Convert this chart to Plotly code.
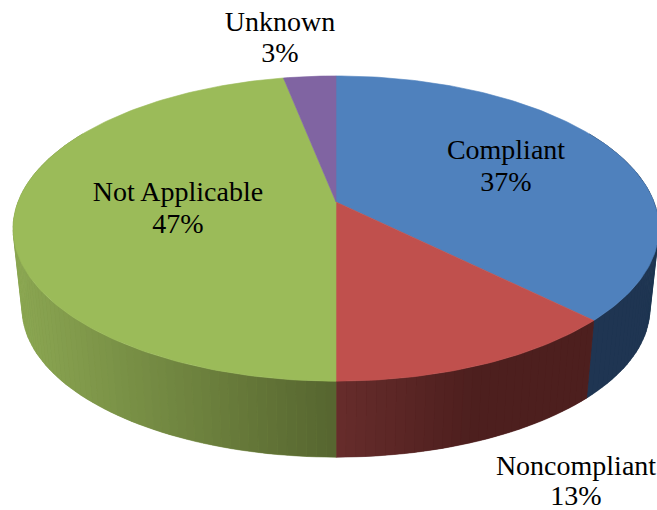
import numpy as np
import plotly.graph_objects as go

categories = ["Compliant", "Noncompliant", "Not Applicable", "Unknown"]
shares = [37.4, 12.6, 46.9, 3.1]

top_colors = ["#4F81BD", "#C0504D", "#9BBB59", "#8064A2"]
wall_stops = {
    "Compliant": ([0, 657], ["#1F3552", "#1F3552"]),
    "Noncompliant": ([336, 470, 657], ["#672C2B", "#4D1F1E", "#4D1F1E"]),
    "Not Applicable": ([12, 336], ["#8DA953", "#56652F"]),
    "Unknown": ([0, 657], ["#4C3B61", "#4C3B61"]),
}
label_centres = {
    "Compliant": (506, 152, 184),
    "Noncompliant": (576, 468, 498),
    "Not Applicable": (178, 194, 226),
    "Unknown": (280, 24, 55),
}

W, H = 657, 510
CX, CY, BASE_CY = 336, 202, 283
RX, RY, PERSP, BASE_SCALE = 318, 148, 0.174, 0.972


def rim(theta, base=False):
    """Perspective-project a pie angle (clockwise from 12 o'clock)."""
    X, Y = np.sin(theta), np.cos(theta)
    w = 1 + PERSP * Y
    s = BASE_SCALE if base else 1.0
    cy = BASE_CY if base else CY
    return CX + s * RX * X / w, cy - s * RY * Y / w


def hex2rgb(c):
    return np.array([int(c[i:i + 2], 16) for i in (1, 3, 5)], float)


def shade(name, x):
    xs, cols = wall_stops[name]
    rgb = np.array([hex2rgb(c) for c in cols])
    vals = [int(round(np.interp(x, xs, rgb[:, i]))) for i in range(3)]
    return f"rgb({vals[0]},{vals[1]},{vals[2]})"


fig = go.Figure()
edges = 2 * np.pi * np.concatenate([[0], np.cumsum(shares)]) / sum(shares)


def polygon(xs, ys, color, lw=0.6):
    fig.add_trace(go.Scatter(
        x=list(xs), y=list(ys), mode="lines", fill="toself", fillcolor=color,
        line=dict(color=color, width=lw), hoverinfo="skip", showlegend=False))


# Side wall: only the part of each slice facing the viewer, as thin strips.
front_lo, front_hi = np.radians(60), np.radians(300)
for i, name in enumerate(categories):
    a0, a1 = max(edges[i], front_lo), min(edges[i + 1], front_hi)
    if a1 <= a0:
        continue
    n = max(2, int(np.degrees(a1 - a0) / 1.5))
    th = np.linspace(a0, a1, n + 1)
    # an opaque backing stops the background showing through the strip seams
    tx, ty = rim(th)
    bx, by = rim(th[::-1], base=True)
    polygon(np.r_[tx, bx, tx[0]], np.r_[ty, by, ty[0]], shade(name, bx.mean()), 0.3)
    order = range(n) if edges[i] < np.pi else range(n - 1, -1, -1)
    for k in order:
        sub = np.linspace(th[k], th[k + 1], 4)
        tx, ty = rim(sub)
        bx, by = rim(sub[::-1], base=True)
        polygon(np.r_[tx, bx, tx[0]], np.r_[ty, by, ty[0]], shade(name, bx.mean()), 0.3)

# Top face
for i, name in enumerate(categories):
    th = np.linspace(edges[i], edges[i + 1], max(4, int(np.degrees(edges[i + 1] - edges[i]))))
    rx, ry = rim(th)
    polygon(np.r_[CX, rx, CX], np.r_[CY, ry, CY], top_colors[i])

# Labels, as a text trace
lab_x, lab_y, lab_t = [], [], []
for name, share in zip(categories, shares):
    lx, ly1, ly2 = label_centres[name]
    lab_x += [lx, lx]
    lab_y += [ly1, ly2]
    lab_t += [name, f"{round(share)}%"]
fig.add_trace(go.Scatter(
    x=lab_x, y=lab_y, text=lab_t, mode="text", textposition="middle center",
    textfont=dict(family="Liberation Serif", size=28, color="#000000"),
    hoverinfo="skip", showlegend=False, cliponaxis=False))

fig.update_layout(
    width=W, height=H, autosize=False,
    margin=dict(l=0, r=0, t=0, b=0),
    paper_bgcolor="white", plot_bgcolor="white",
    xaxis=dict(range=[0, W], visible=False, fixedrange=True),
    yaxis=dict(range=[H, 0], visible=False, fixedrange=True),
    showlegend=False,
)
fig.write_html(
    "out.html",
    config={"displayModeBar": False},
    post_script="document.body.style.margin='0';document.body.style.overflow='hidden';",
)
